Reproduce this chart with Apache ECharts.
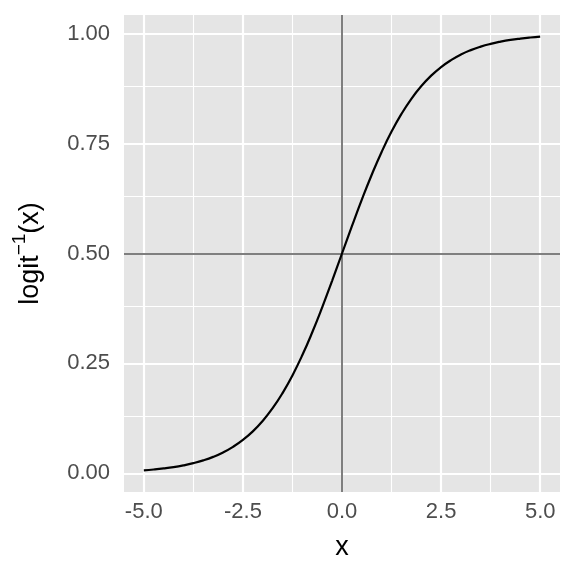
<!DOCTYPE html>
<html><head><meta charset="utf-8">
<script src="https://cdn.jsdelivr.net/npm/echarts@6/dist/echarts.min.js"></script>
<style>html,body{margin:0;padding:0;background:#fff}#c{width:576px;height:576px}</style>
</head><body><div id="c"></div>
<script>
const xValues = [-5,-4.75,-4.5,-4.25,-4,-3.75,-3.5,-3.25,-3,-2.75,-2.5,-2.25,-2,-1.75,-1.5,-1.25,-1,-0.75,-0.5,-0.25,0,0.25,0.5,0.75,1,1.25,1.5,1.75,2,2.25,2.5,2.75,3,3.25,3.5,3.75,4,4.25,4.5,4.75,5];
const yValues = [0.0067,0.0086,0.011,0.014,0.018,0.023,0.0293,0.0373,0.0474,0.0601,0.0759,0.0953,0.1192,0.148,0.1824,0.2227,0.2689,0.3208,0.3775,0.4378,0.5,0.5622,0.6225,0.6792,0.7311,0.7773,0.8176,0.852,0.8808,0.9047,0.9241,0.9399,0.9526,0.9627,0.9707,0.977,0.982,0.986,0.989,0.9914,0.9933];
const xTicks = [-5,-2.5,0,2.5,5];
const xMinor = [-3.75,-1.25,1.25,3.75];
const yTicks = [0,0.25,0.5,0.75,1];
const yMinor = [0.125,0.375,0.625,0.875];
const xRange = [-5.5,5.5];
const yRange = [-0.0426,1.0426];
const refX = 0, refY = 0.5;

const FONT = 'Liberation Sans, Arial, sans-serif';
const chart = echarts.init(document.getElementById('c'), null, {renderer:'canvas'});
const white = (w)=>({color:'#ffffff', width:w, type:'solid'});
const gridLines = [];
xTicks.forEach(v=>gridLines.push({xAxis:v, lineStyle:white(2.2)}));
xMinor.forEach(v=>gridLines.push({xAxis:v, lineStyle:white(1.1)}));
yTicks.forEach(v=>gridLines.push({yAxis:v, lineStyle:white(2.2)}));
yMinor.forEach(v=>gridLines.push({yAxis:v, lineStyle:white(1.1)}));
const tickStyle = {show:true, length:6, lineStyle:{color:'#333333', width:2}};
const labelStyle = {color:'#4d4d4d', fontSize:22, fontFamily:FONT};
chart.setOption({
  animation:false,
  grid:{left:124, right:16, top:15, bottom:84, show:true, backgroundColor:'#e5e5e5', borderWidth:0},
  xAxis:{
    type:'value', min:xRange[0], max:xRange[1],
    axisLine:{show:false}, splitLine:{show:false},
    axisTick:Object.assign({}, tickStyle, {customValues:xTicks}),
    axisLabel:Object.assign({}, labelStyle, {customValues:xTicks, margin:9, formatter:v=>v.toFixed(1)}),
    name:'x', nameLocation:'middle', nameGap:42,
    nameTextStyle:{color:'#000', fontSize:27, fontFamily:FONT}
  },
  yAxis:{
    type:'value', min:yRange[0], max:yRange[1],
    axisLine:{show:false}, splitLine:{show:false},
    axisTick:Object.assign({}, tickStyle, {customValues:yTicks}),
    axisLabel:Object.assign({}, labelStyle, {customValues:yTicks, margin:14, formatter:v=>v.toFixed(2)}),
    name:'{a|logit}{s|−1}{a|(x)}', nameLocation:'middle', nameGap:73,
    nameTextStyle:{color:'#000', fontSize:27, fontFamily:FONT,
      rich:{a:{fontSize:27, color:'#000', fontFamily:FONT},
            s:{fontSize:19, color:'#000', fontFamily:FONT, padding:[0,0,22,0]}}}
  },
  series:[
    {type:'line', data:[], z:1, silent:true,
     markLine:{z:1, silent:true, symbol:['none','none'], label:{show:false}, animation:false, data:gridLines}},
    {type:'line', data:[], z:2, silent:true,
     markLine:{z:2, silent:true, symbol:['none','none'], label:{show:false}, animation:false,
       lineStyle:{color:'#7f7f7f', width:2, type:'solid'},
       data:[{xAxis:refX},{yAxis:refY}]}},
    {type:'line', z:10, data:xValues.map((x,i)=>[x,yValues[i]]), smooth:true, showSymbol:false,
     lineStyle:{color:'#000', width:2.2}}
  ]
});
</script></body></html>
